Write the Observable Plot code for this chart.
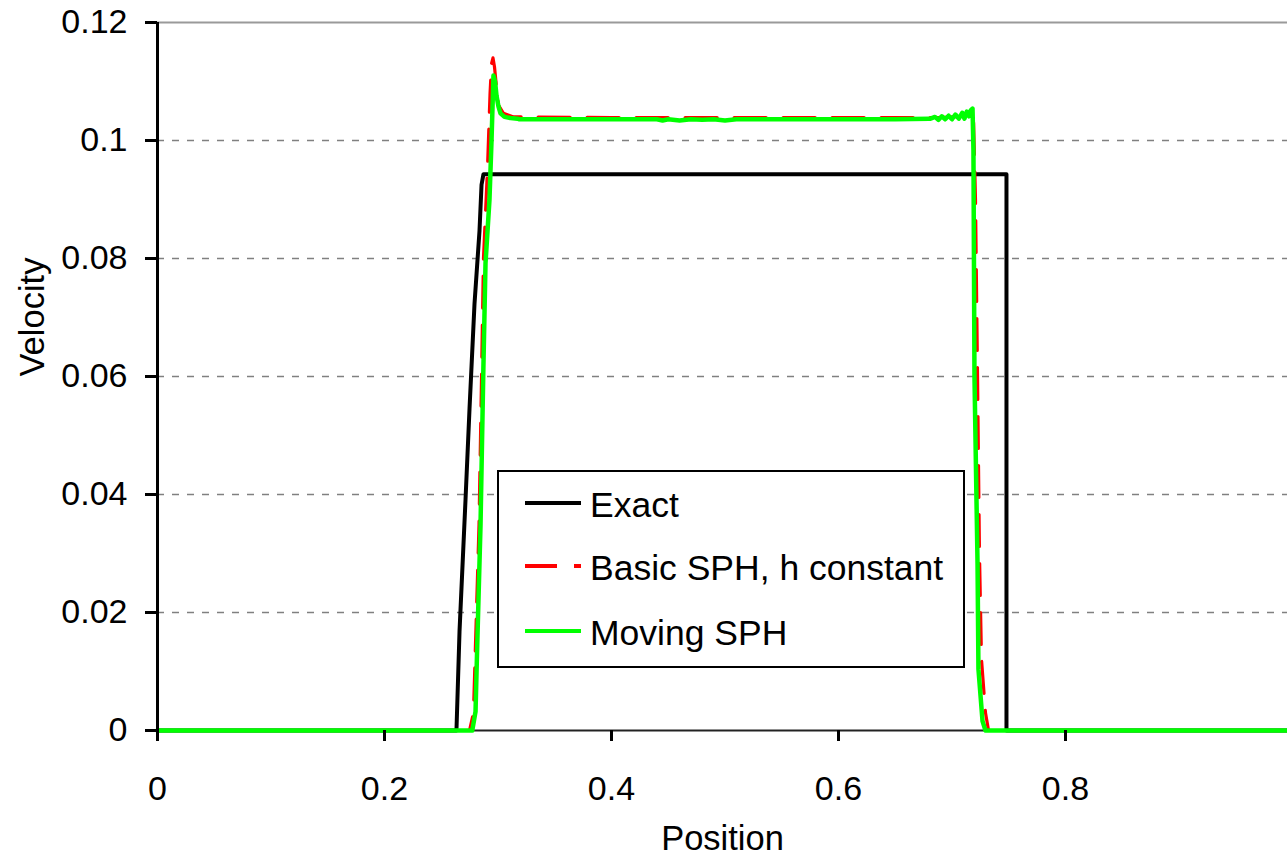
<!DOCTYPE html>
<html>
<head>
<meta charset="utf-8">
<script src="https://cdn.jsdelivr.net/npm/d3@7"></script>
<script src="https://cdn.jsdelivr.net/npm/@observablehq/plot@0.6"></script>
<style>
  html, body { margin: 0; padding: 0; background: #fff; }
  #wrap { position: relative; width: 1287px; height: 854px; }
  #wrap svg { display: block; }
  #legend { position: absolute; box-sizing: border-box; border: 2px solid #000; background: #fff; }
</style>
</head>
<body>
<div id="wrap"></div>
<script>
// ---- Data ----
const xTicks = [0, 0.2, 0.4, 0.6, 0.8];
const yTicks = [0, 0.02, 0.04, 0.06, 0.08, 0.1, 0.12];
const yGrid = [0.02, 0.04, 0.06, 0.08, 0.1];

const seriesNames = ["Exact", "Basic SPH, h constant", "Moving SPH"];
const seriesColors = ["#000000", "#ff0000", "#00ff00"];

const exactX = [0, 0.2634, 0.2661, 0.2714, 0.2749, 0.2793, 0.2837, 0.2855, 0.2872, 0.748, 0.748, 0.9956];
const exactV = [0, 0, 0.0168, 0.0392, 0.0545, 0.0723, 0.0847, 0.0925, 0.0943, 0.0943, 0, 0];

const basicX = [0, 0.2749, 0.2784, 0.2833, 0.2855, 0.2872, 0.2907, 0.2930, 0.2943, 0.2956, 0.2969, 0.2987, 0.3004, 0.3048, 0.3137,
  0.40, 0.50, 0.60, 0.69, 0.71, 0.7189, 0.7207, 0.7225, 0.7242, 0.7260, 0.7295, 0.7322, 0.9956];
const basicV = [0, 0, 0.003, 0.035, 0.060, 0.080, 0.095, 0.108, 0.113, 0.1140, 0.1125, 0.1090, 0.1060, 0.1046, 0.1040,
  0.1039, 0.1039, 0.1039, 0.1039, 0.1041, 0.1040, 0.090, 0.060, 0.030, 0.012, 0.003, 0, 0];

const movingX = [0, 0.2773, 0.2802, 0.2817, 0.2846, 0.2870, 0.2890, 0.2925, 0.2943, 0.2960, 0.2974, 0.2987, 0.3004, 0.3022, 0.3057,
  0.3110, 0.3172, 0.3189, 0.36, 0.40, 0.44, 0.445, 0.45, 0.46, 0.47, 0.48, 0.49, 0.50, 0.51, 0.52, 0.60, 0.65, 0.68,
  0.6811, 0.6850, 0.6880, 0.6910, 0.6940, 0.6970, 0.7000, 0.7030, 0.7060, 0.7090, 0.7110, 0.7130, 0.7150, 0.7165, 0.7181,
  0.7189, 0.7198, 0.7225, 0.7233, 0.7269, 0.7295, 0.9956];
const movingV = [0, 0, 0.0032, 0.0144, 0.0348, 0.0602, 0.0792, 0.0900, 0.1000, 0.1110, 0.1100, 0.1076, 0.1058, 0.1046, 0.1040,
  0.1038, 0.1037, 0.1036, 0.1036, 0.1036, 0.1036, 0.1034, 0.1036, 0.1034, 0.1036, 0.1035, 0.1036, 0.1034, 0.1036, 0.1036, 0.1036, 0.1036, 0.1037,
  0.1037, 0.1040, 0.1035, 0.1041, 0.1036, 0.1042, 0.1036, 0.1044, 0.1037, 0.1047, 0.1037, 0.1049, 0.1041, 0.1051, 0.1054,
  0.0983, 0.0600, 0.0283, 0.0104, 0.0016, 0, 0];

const toRows = (xs, vs) => xs.map((x, i) => ({x, v: vs[i]}));
const exact = toRows(exactX, exactV);
const basic = toRows(basicX, basicV);
const moving = toRows(movingX, movingV);

const FONT = "'Liberation Sans', Arial, Helvetica, sans-serif";

const chart = Plot.plot({
  width: 1287,
  height: 854,
  marginLeft: 157,
  marginRight: 0,
  marginTop: 22,
  marginBottom: 124,
  style: { fontFamily: FONT, fontSize: "34px", color: "#000", background: "#fff", overflow: "visible" },
  x: { domain: [0, 0.9956], label: null },
  y: { domain: [0, 0.12], label: null },
  marks: [
    Plot.ruleY(yGrid, { stroke: "#808080", strokeWidth: 1.6, strokeDasharray: "7,8" }),
    Plot.ruleY([0.12], { stroke: "#9a9a9a", strokeWidth: 2 }),
    Plot.ruleY([0], { stroke: "#222", strokeWidth: 2 }),
    Plot.line(exact, { x: "x", y: "v", stroke: seriesColors[0], strokeWidth: 4, curve: "linear" }),
    Plot.line(basic, { x: "x", y: "v", stroke: seriesColors[1], strokeWidth: 3.2, strokeDasharray: "32,17" }),
    Plot.line(moving, { x: "x", y: "v", stroke: seriesColors[2], strokeWidth: 4.5 }),
    Plot.ruleX([0], { stroke: "#000", strokeWidth: 3 }),
    Plot.axisX({ ticks: xTicks, tickSize: 11, tickPadding: 34, tickFormat: d => String(d), label: null, strokeWidth: 3, fontSize: 34 }),
    Plot.axisY({ ticks: yTicks, tickSize: 12, tickPadding: 18, tickFormat: d => String(d), label: null, strokeWidth: 3, fontSize: 34 }),
    Plot.text(["Velocity"], { frameAnchor: "left", dx: -125, rotate: -90, fontSize: 34.5, lineAnchor: "middle" }),
    Plot.text(["Position"], { frameAnchor: "bottom", dy: 108, fontSize: 34.5, lineAnchor: "middle" })
  ]
});

const wrap = document.getElementById("wrap");
wrap.appendChild(chart);

// ---- Legend overlay ----
const legend = document.createElement("div");
legend.id = "legend";
const L = { left: 497, top: 470, width: 468, height: 198 };
Object.assign(legend.style, { left: L.left + "px", top: L.top + "px", width: L.width + "px", height: L.height + "px" });
const rowsY = [33, 96, 161];
const dashes = [null, "32,17", null];
const widths = [4, 4, 4];
const ns = "http://www.w3.org/2000/svg";
const lsvg = document.createElementNS(ns, "svg");
lsvg.setAttribute("width", L.width - 4);
lsvg.setAttribute("height", L.height - 4);
lsvg.style.display = "block";
seriesNames.forEach((name, i) => {
  const y = rowsY[i] - 2;
  const ln = document.createElementNS(ns, "line");
  ln.setAttribute("x1", 26); ln.setAttribute("x2", 82);
  ln.setAttribute("y1", y); ln.setAttribute("y2", y);
  ln.setAttribute("stroke", seriesColors[i]);
  ln.setAttribute("stroke-width", widths[i]);
  if (dashes[i]) ln.setAttribute("stroke-dasharray", dashes[i]);
  lsvg.appendChild(ln);
  const tx = document.createElementNS(ns, "text");
  tx.setAttribute("x", 91);
  tx.setAttribute("y", y + 14);
  tx.setAttribute("font-family", FONT);
  tx.setAttribute("font-size", 35.5);
  tx.setAttribute("fill", "#000");
  tx.textContent = name;
  lsvg.appendChild(tx);
});
legend.appendChild(lsvg);
wrap.appendChild(legend);
</script>
</body>
</html>
